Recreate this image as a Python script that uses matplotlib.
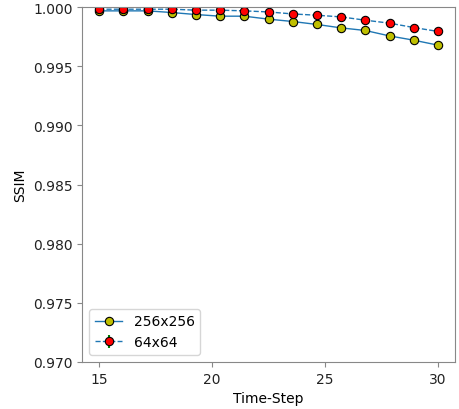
import numpy as np
from matplotlib import pyplot as plt

# time steps and SSIM per resolution
steps = np.linspace(15, 30, 15)
ssim_256 = [0.99969, 0.99969, 0.99969, 0.99955, 0.99938, 0.99924, 0.99924, 0.99899,
            0.99879, 0.99854, 0.99825, 0.99803, 0.99757, 0.99721, 0.99679]
ssim_64 = [0.99983, 0.99983, 0.99983, 0.99983, 0.99975, 0.99975, 0.99969, 0.99960,
           0.99943, 0.99932, 0.99918, 0.99890, 0.99865, 0.99828, 0.99795]
err_64 = [0.00002, 0.00002, 0.00002, 0.00003, 0.00003, 0.00004, 0.00004, 0.00005,
          0.00005, 0.00006, 0.00007, 0.00008, 0.00009, 0.00011, 0.00016]

fig = plt.figure(figsize=(4.59, 4.10), dpi=100)
ax = fig.add_axes([0.179, 0.115, 0.812, 0.865])

ax.plot(steps, ssim_256, '-o', color='C0', lw=1, marker='o', markersize=6,
        markerfacecolor='y', markeredgecolor='k', markeredgewidth=0.8, label='256x256')
ax.errorbar(steps, ssim_64, yerr=err_64, fmt='--o', color='C0', lw=1, markersize=6,
            markerfacecolor='r', markeredgecolor='k', markeredgewidth=0.8,
            ecolor='g', elinewidth=1.5, label='64x64')

ax.set_ylim(0.970, 1.000)
ax.set_yticks(np.arange(0.970, 1.0001, 0.005))
ax.set_xticks([15, 20, 25, 30])
ax.set_xlabel('Time-Step')
ax.set_ylabel('SSIM')

for sp in ax.spines.values():
    sp.set_color('#888888')
ax.tick_params(colors='#888888', labelcolor='#222222', labelsize=10)

ax.legend(loc='lower left', fontsize=10)

fig.savefig('out.png')
